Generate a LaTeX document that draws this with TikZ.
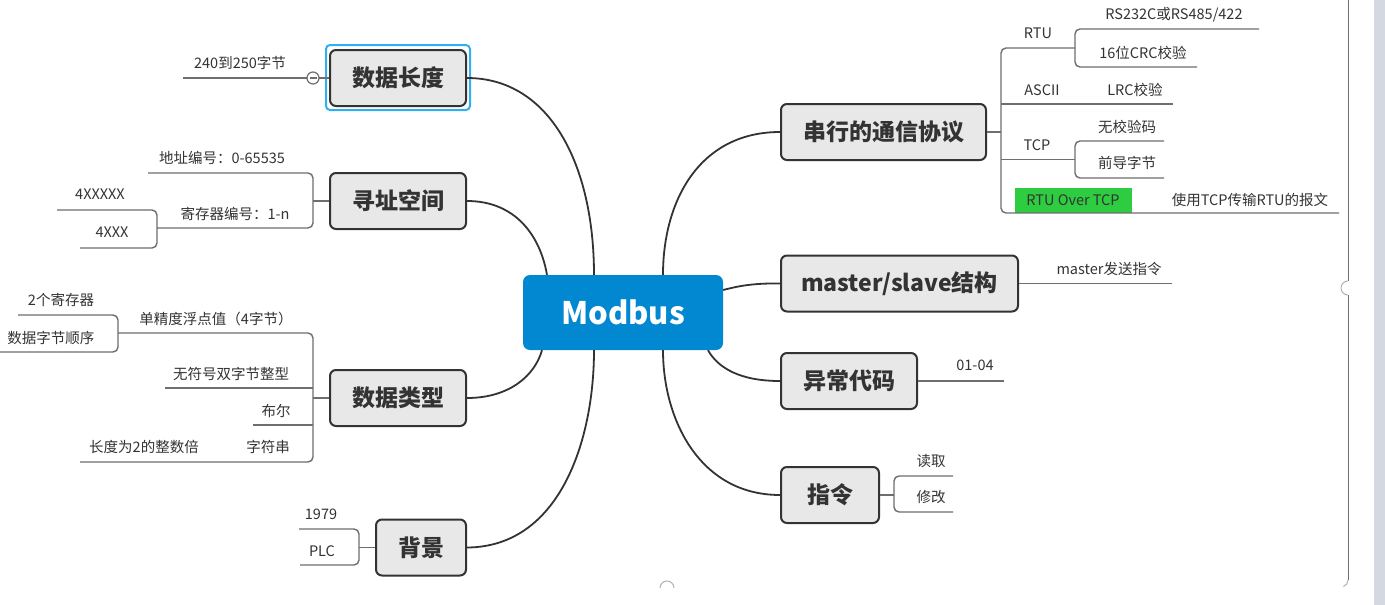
\documentclass[tikz,border=0pt]{standalone}
\usepackage{fontspec}
\setmainfont{Noto Sans CJK SC}
\definecolor{boxfill}{RGB}{232,232,232}
\definecolor{boxdraw}{RGB}{51,51,51}
\definecolor{leafc}{RGB}{110,110,110}
\definecolor{txt}{RGB}{51,51,51}
\definecolor{mblue}{RGB}{2,136,209}
\definecolor{selblue}{RGB}{48,176,240}
\definecolor{rgreen}{RGB}{46,204,64}
\definecolor{strip}{RGB}{212,216,224}
\tikzset{
  mainbox/.style={draw=boxdraw, line width=2pt, fill=boxfill, rounded corners=6pt, text=txt, font=\fontsize{23}{26}\selectfont\bfseries, inner sep=0pt, minimum height=56pt},
  rootbox/.style={fill=mblue, rounded corners=7pt, text=white, font=\fontsize{31}{35}\selectfont\bfseries, minimum width=200pt, minimum height=75pt, inner sep=0pt},
  leaf/.style={text=txt, font=\fontsize{14.5}{17}\selectfont, inner sep=0pt},
  conn/.style={draw=boxdraw, line width=1.8pt},
  leafline/.style={draw=leafc, line width=1.4pt, rounded corners=5pt},
}
\begin{document}
\begin{tikzpicture}[x=1pt,y=-1pt]
\useasboundingbox (0,0) rectangle (1385,605);
\fill[white] (0,0) rectangle (1385,605);
% window frame artifacts
\fill[strip] (1374,0) rectangle (1385,605);
\draw[leafc, line width=1pt] (1348,0) -- (1348,281);
\draw[leafc, line width=1pt] (1348,295) -- (1348,580);
\draw[gray!60, line width=1pt] (1348,281) arc[start angle=90, end angle=270, radius=7pt];
\draw[gray!60, line width=1pt] (1348,580) arc[start angle=0, end angle=-70, radius=7pt];
\draw[gray!60, line width=1pt] (660,588) arc[start angle=180, end angle=0, radius=7pt];

% root
\node[rootbox] (modbus) at (623,312.5) {Modbus};

% main boxes
\draw[selblue, line width=2pt, rounded corners=4pt] (326,45) rectangle (470,110);
\node[mainbox, minimum width=136pt] (len) at (398,78) {数据长度};
\node[mainbox, minimum width=136pt] (addr) at (398,201) {寻址空间};
\node[mainbox, minimum width=136pt] (dtype) at (398,398) {数据类型};
\node[mainbox, minimum width=90pt] (bg) at (421,547.5) {背景};
\node[mainbox, minimum width=205pt] (serial) at (883.5,132) {串行的通信协议};
\node[mainbox, minimum width=237pt] (ms) at (899.5,283.5) {master/slave结构};
\node[mainbox, minimum width=136pt] (exc) at (849,381) {异常代码};
\node[mainbox, minimum width=98pt] (cmd) at (830,495) {指令};

% connectors from root
\draw[conn] (len.east) .. controls (550,78) and (594,165) .. ([xshift=-29pt]modbus.north);
\draw[conn] (addr.east) .. controls (515,201) and (540,235) .. ([xshift=-76pt]modbus.north);
\draw[conn] (dtype.east) .. controls (510,398) and (535,375) .. ([xshift=-81pt]modbus.south);
\draw[conn] (bg.east) .. controls (560,547) and (594,440) .. ([xshift=-29pt]modbus.south);
\draw[conn] (serial.west) .. controls (700,132) and (663,200) .. ([xshift=40pt]modbus.north);
\draw[conn] (ms.west) .. controls (750,283) and (735,287) .. ([yshift=22.5pt]modbus.east);
\draw[conn] (exc.west) .. controls (740,381) and (718,368) .. ([xshift=85pt]modbus.south);
\draw[conn] (cmd.west) .. controls (700,495) and (663,420) .. ([xshift=40pt]modbus.south);

% 数据长度 leaf
\node[leaf] (l240) at (240,63) {240到250字节};
\coordinate (c240) at (313,78);
\draw[leafline] (183,78) -- ([xshift=-6pt]c240);
\draw[leafline] ([xshift=6pt]c240) -- (len.west);
\draw[leafc, line width=1.2pt, fill=white] (c240) circle[radius=6pt];
\draw[leafc, line width=1.2pt] ([xshift=-3.5pt]c240) -- ([xshift=3.5pt]c240);

% 寻址空间 leaves
\node[leaf] (a1) at (222,158) {地址编号：0-65535};
\node[leaf] (a2) at (235,214) {寄存器编号：1-n};
\node[leaf] (a21) at (100,194) {4XXXXX};
\node[leaf] (a22) at (112,232) {4XXX};
\draw[leafline] (148,173) -- (313,173) -- (313,228) -- (157,228);
\draw[leafline] (313,201) -- (addr.west);
\draw[leafline] (57,210) -- (157,210) -- (157,248) -- (80,248);

% 数据类型 leaves
\node[leaf] (d1) at (216,319) {单精度浮点值（4字节）};
\node[leaf] (d11) at (61,300) {2个寄存器};
\node[leaf] (d12) at (51,338) {数据字节顺序};
\node[leaf] (d2) at (231,374) {无符号双字节整型};
\node[leaf] (d3) at (276,411) {布尔};
\node[leaf] (d4) at (268,447) {字符串};
\node[leaf] (d41) at (144,447) {长度为2的整数倍};
\draw[leafline] (118,333) -- (313,333) -- (313,462) -- (80,462);
\draw[leafline] (165,388) -- (313,388);
\draw[leafline] (253,425) -- (313,425);
\draw[leafline] (313,398) -- (dtype.west);
\draw[leafline] (18,315) -- (118,315) -- (118,352) -- (0,352);

% 背景 leaves
\node[leaf] (b1) at (321,514) {1979};
\node[leaf] (b2) at (322,551) {PLC};
\draw[leafline] (299,529) -- (359,529) -- (359,565) -- (300,565);
\draw[leafline] (359,547.5) -- (bg.west);

% 串行的通信协议 leaves
\fill[rgreen] (1015,188) rectangle (1132,213);
\node[leaf] (s1) at (1038,33) {RTU};
\node[leaf] (s11) at (1174,15) {RS232C或RS485/422};
\node[leaf] (s12) at (1143,53) {16位CRC校验};
\node[leaf] (s2) at (1042,90) {ASCII};
\node[leaf] (s21) at (1135,90) {LRC校验};
\node[leaf] (s3) at (1037,145) {TCP};
\node[leaf] (s31) at (1127,127) {无校验码};
\node[leaf] (s32) at (1127,163) {前导字节};
\node[leaf] (s4) at (1073,200) {RTU Over TCP};
\node[leaf] (s41) at (1250,200) {使用TCP传输RTU的报文};
\draw[leafline] (serial.east) -- (1001,132);
\draw[leafline] (1075,48) -- (1001,48) -- (1001,213) -- (1339,213);
\draw[leafline] (1001,104) -- (1173,104);
\draw[leafline] (1001,159.5) -- (1075,159.5);
\draw[leafline] (1259,29) -- (1075,29) -- (1075,67) -- (1197,67);
\draw[leafline] (1164,141) -- (1075,141) -- (1075,178) -- (1164,178);

% master/slave leaf
\node[leaf] (m1) at (1109,269) {master发送指令};
\draw[leafline] (ms.east) -- (1172,283.5);

% 异常代码 leaf
\node[leaf] (e1) at (975,365) {01-04};
\draw[leafline] (exc.east) -- (1004,381);

% 指令 leaves
\node[leaf] (c1) at (931,461) {读取};
\node[leaf] (c2) at (931,497) {修改};
\draw[leafline] (cmd.east) -- (894,495);
\draw[leafline] (953,476) -- (894,476) -- (894,512) -- (953,512);
\end{tikzpicture}
\end{document}
